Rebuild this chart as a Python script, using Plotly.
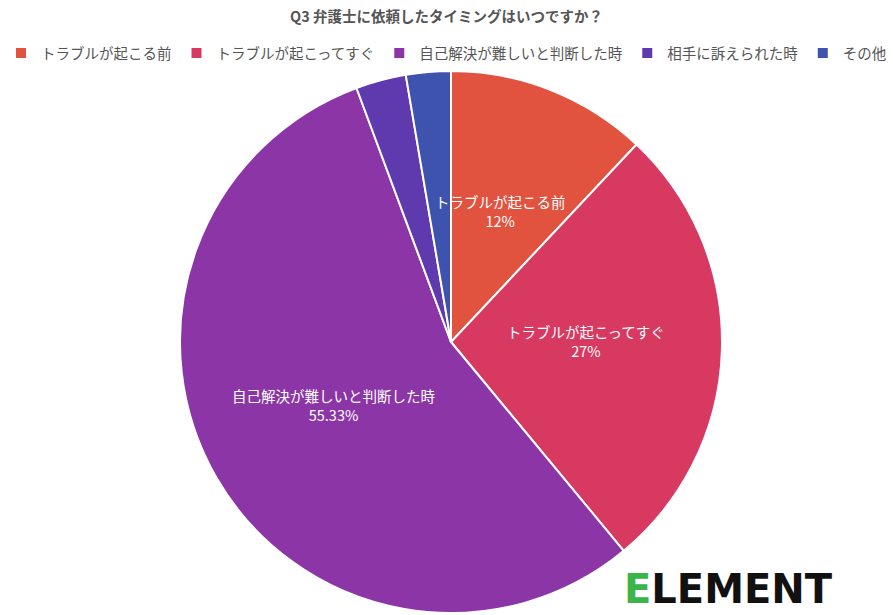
import math
import plotly.graph_objects as go

labels = ["トラブルが起こる前", "トラブルが起こってすぐ", "自己解決が難しいと判断した時", "相手に訴えられた時", "その他"]
values = [12, 27, 55.33, 3, 2.67]
pct_text = ["12%", "27%", "55.33%", "", ""]
colors = ["#E1533F", "#D73961", "#8C35A6", "#5E3AAE", "#3E53AE"]

W, H = 893, 615
cx, cy, r = 451, 342, 271

fig = go.Figure(go.Pie(
    labels=labels, values=values, sort=False, direction="clockwise", rotation=0,
    marker=dict(colors=colors, line=dict(color="white", width=2)),
    textinfo="none", hoverinfo="label+percent",
    domain=dict(x=[(cx - r) / W, (cx + r) / W], y=[1 - (cy + r) / H, 1 - (cy - r) / H]),
))

# labels placed at half radius along each slice's mid-angle (computed from values)
annotations = []
total = sum(values)
cum = 0.0
for lab, v, p in zip(labels, values, pct_text):
    mid = (cum + v / 2) / total * 2 * math.pi
    cum += v
    if not p:
        continue
    px = cx + 0.5 * r * math.sin(mid)
    py = cy - 0.5 * r * math.cos(mid)
    annotations.append(dict(
        text=f"{lab}<br>{p}", x=px / W, y=1 - py / H, xref="paper", yref="paper",
        xanchor="center", yanchor="middle", showarrow=False, yshift=5,
        font=dict(color="white", size=14.5, family="Noto Sans CJK JP"), align="center",
    ))

annotations.append(dict(
    text="<b><span style='color:#3BB54A'>E</span>LEMENT</b>",
    x=728 / W, y=1 - 589 / H, xref="paper", yref="paper", xanchor="center", yanchor="middle",
    showarrow=False, font=dict(size=40, color="#111", family="DejaVu Sans"),
))

fig.update_layout(
    width=W, height=H, margin=dict(l=0, r=0, t=0, b=0),
    paper_bgcolor="white", plot_bgcolor="white",
    font=dict(family="Noto Sans CJK JP", color="#555"),
    title=dict(text="<b>Q3 弁護士に依頼したタイミングはいつですか？</b>", x=0.5, xanchor="center",
               y=1 - 17 / H, yanchor="middle", font=dict(size=14.5, color="#555")),
    legend=dict(orientation="h", x=0.5, xanchor="center", y=1 - 37 / H, yanchor="top",
                font=dict(size=14.5, color="#555"), traceorder="normal"),
    annotations=annotations,
)

fig.write_html("out.html", config={"displayModeBar": False},
               post_script="document.body.style.margin='0';")
